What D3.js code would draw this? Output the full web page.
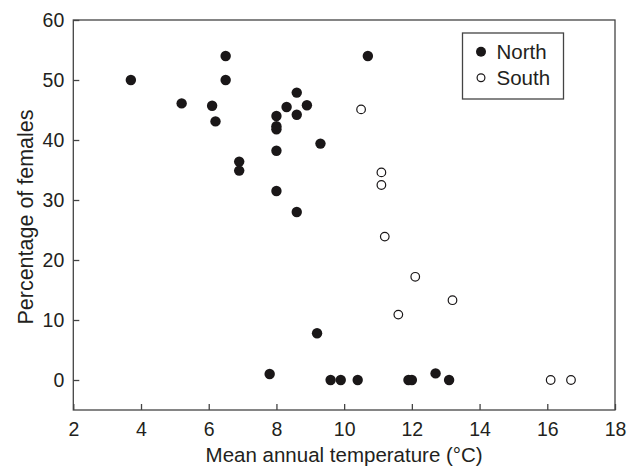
<!DOCTYPE html>
<html>
<head>
<meta charset="utf-8">
<script src="https://cdn.jsdelivr.net/npm/d3@7"></script>
<style>
  body { margin: 0; background: #fff; }
  text { font-family: "Liberation Sans", Arial, Helvetica, sans-serif; fill: #231f20; }
</style>
</head>
<body>
<div id="chart"></div>
<script>
// Sex ratio vs mean annual temperature
const northTemp = [3.7, 5.2, 6.1, 6.2, 6.5, 6.5, 6.9, 6.9, 8.0, 8.0, 8.0, 8.0, 8.0, 8.3, 8.6, 8.6, 8.6, 8.9, 9.3, 10.7, 9.2, 7.8, 9.6, 9.9, 10.4, 11.9, 12.0, 12.7, 13.1];
const northPct  = [50, 46.1, 45.7, 43.1, 54, 50, 36.4, 34.9, 44, 42.3, 41.8, 38.2, 31.5, 45.5, 47.9, 44.2, 28, 45.8, 39.4, 54, 7.8, 1, 0, 0, 0, 0, 0, 1.1, 0];
const southTemp = [10.5, 11.1, 11.1, 11.2, 12.1, 13.2, 11.6, 16.1, 16.7];
const southPct  = [45.1, 34.6, 32.5, 23.9, 17.2, 13.3, 10.9, 0, 0];
const xTicks = [2, 4, 6, 8, 10, 12, 14, 16, 18];
const yTicks = [0, 10, 20, 30, 40, 50, 60];

const width = 628, height = 467;
const margin = {top: 20, right: 13, bottom: 57, left: 73.3};
const w = width - margin.left - margin.right;
const h = height - margin.top - margin.bottom;

const svg = d3.select("#chart").append("svg")
    .attr("width", width)
    .attr("height", height);

const g = svg.append("g")
    .attr("transform", `translate(${margin.left},${margin.top})`);

const x = d3.scaleLinear().domain([2, 18]).range([0, w]);
const y = d3.scaleLinear().domain([-5, 60]).range([h, 0]);

// frame
g.append("rect")
    .attr("width", w).attr("height", h)
    .style("fill", "none").style("stroke", "#444").style("stroke-width", 1.3);

// axes, ticks pointing inward
const xAxis = g.append("g")
    .attr("transform", `translate(0,${h})`)
    .call(d3.axisBottom(x).tickValues(xTicks).tickSize(-6).tickPadding(12));
const yAxis = g.append("g")
    .call(d3.axisLeft(y).tickValues(yTicks).tickSize(-6).tickPadding(9));

[xAxis, yAxis].forEach(a => {
    a.select(".domain").remove();
    a.selectAll("line").style("stroke", "#444").style("stroke-width", 1.3);
    a.selectAll("text")
        .style("font-size", "19.5px")
        .style("font-family", '"Liberation Sans", Arial, sans-serif')
        .style("fill", "#231f20");
});

// axis titles
svg.append("text")
    .attr("x", margin.left + w / 2)
    .attr("y", 461.5)
    .attr("text-anchor", "middle")
    .style("font-size", "20.5px")
    .text("Mean annual temperature (°C)");

svg.append("text")
    .attr("transform", `translate(33,${margin.top + h / 2 + 2}) rotate(-90)`)
    .attr("text-anchor", "middle")
    .style("font-size", "21.5px")
    .text("Percentage of females");

// points
const north = northTemp.map((t, i) => ({t: t, p: northPct[i]}));
const south = southTemp.map((t, i) => ({t: t, p: southPct[i]}));

g.selectAll(".north")
    .data(north)
    .enter().append("circle")
    .attr("class", "north")
    .attr("cx", d => x(d.t))
    .attr("cy", d => y(d.p))
    .attr("r", 5.2)
    .style("fill", "#1a1718");

g.selectAll(".south")
    .data(south)
    .enter().append("circle")
    .attr("class", "south")
    .attr("cx", d => x(d.t))
    .attr("cy", d => y(d.p))
    .attr("r", 4.3)
    .style("fill", "#fff")
    .style("stroke", "#1a1718")
    .style("stroke-width", 1.2);

// legend
const legend = svg.append("g").attr("transform", "translate(462.5,33)");
legend.append("rect")
    .attr("width", 101).attr("height", 66)
    .style("fill", "#fff").style("stroke", "#444").style("stroke-width", 1.3);

legend.append("circle")
    .attr("cx", 18.5).attr("cy", 18.7).attr("r", 5)
    .style("fill", "#1a1718");
legend.append("text")
    .attr("x", 34).attr("y", 25.5)
    .style("font-size", "20.5px")
    .text("North");

legend.append("circle")
    .attr("cx", 18.5).attr("cy", 44.7).attr("r", 3.9)
    .style("fill", "#fff").style("stroke", "#1a1718").style("stroke-width", 1.2);
legend.append("text")
    .attr("x", 34).attr("y", 51.5)
    .style("font-size", "20.5px")
    .text("South");
</script>
</body>
</html>
